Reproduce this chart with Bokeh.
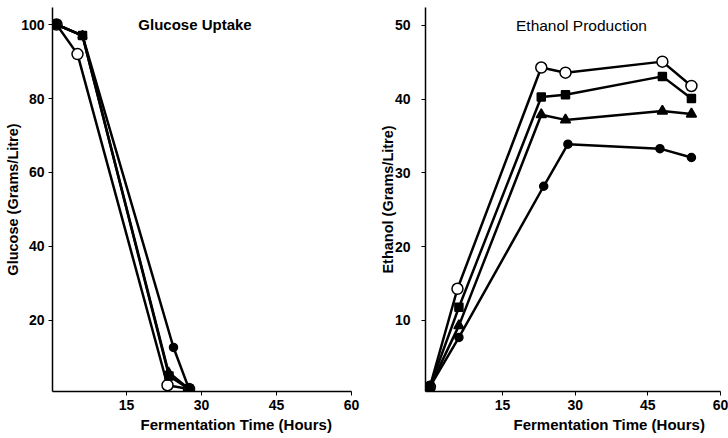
from bokeh.plotting import figure
from bokeh.layouts import row
from bokeh.models import Range1d, FixedTicker, Label, Title
from bokeh.embed import file_html
from bokeh.resources import INLINE

# ---------------- data ----------------
# Glucose uptake (g/L)
glu_t_square = [1, 6.2, 23.5, 27.5]
glu_square = [100, 97, 5, 1.5]
glu_t_fcircle = [1, 6.2, 24.4, 27.5]
glu_fcircle = [100, 97, 12.7, 1.5]
glu_t_triangle = [1, 6.2, 23.4, 27.5]
glu_triangle = [100, 97, 6, 1.5]
glu_t_ocircle = [1, 5.2, 23.2, 27.5]
glu_ocircle = [100, 92, 2.5, 1.5]

# Ethanol production (g/L)
eth_t_ocircle = [0, 5.7, 23, 28, 48, 54]
eth_ocircle = [1, 14.3, 44.3, 43.6, 45.1, 41.8]
eth_t_square = [0, 6, 23, 28, 48, 54]
eth_square = [1, 11.8, 40.3, 40.6, 43.1, 40.1]
eth_t_triangle = [0, 6, 23, 28, 48, 54]
eth_triangle = [1, 9.3, 37.9, 37.2, 38.4, 38.0]
eth_t_fcircle = [0, 6, 23.5, 28.5, 47.5, 54]
eth_fcircle = [1, 7.7, 28.2, 33.9, 33.3, 32.1]

x_ticks = [15, 30, 45, 60]
glu_ticks = [20, 40, 60, 80, 100]
eth_ticks = [10, 20, 30, 40, 50]

FONT = "Liberation Sans"


def style(p, xt, yt, tick_standoff, ylabel, ylabel_standoff):
    p.xgrid.visible = False
    p.ygrid.visible = False
    p.outline_line_color = None
    p.xaxis.ticker = FixedTicker(ticks=xt)
    p.yaxis.ticker = FixedTicker(ticks=yt)
    for ax in (p.xaxis[0], p.yaxis[0]):
        ax.major_label_text_font = FONT
        ax.major_label_text_font_size = "14px"
        ax.major_label_text_font_style = "bold"
        ax.major_label_text_color = "black"
        ax.axis_line_color = "black"
        ax.axis_line_width = 1.5
        ax.major_tick_line_color = "black"
        ax.major_tick_out = 4
        ax.major_tick_in = 0
        ax.minor_tick_line_color = None
    p.xaxis.major_label_standoff = 4
    p.yaxis.major_label_standoff = tick_standoff
    p.yaxis.axis_label = ylabel
    p.yaxis.axis_label_text_font = FONT
    p.yaxis.axis_label_text_font_size = "14.5px"
    p.yaxis.axis_label_text_font_style = "bold"
    p.yaxis.axis_label_text_color = "black"
    p.yaxis.axis_label_standoff = ylabel_standoff
    p.add_layout(Title(text="Fermentation Time (Hours)", align="left", offset=88,
                       text_font=FONT, text_font_size="15px", text_font_style="bold",
                       text_color="black", standoff=3), "below")


def series(p, t, v, marker, size, fill="black"):
    p.line(t, v, line_color="black", line_width=2.5)
    p.scatter(t, v, marker=marker, size=size, fill_color=fill,
              line_color="black", line_width=1.5)


# ---------------- left: glucose ----------------
p1 = figure(width=365, height=438, output_backend="svg", toolbar_location=None,
            x_range=Range1d(0.2, 60), y_range=Range1d(0.8, 104.6),
            min_border_left=52, min_border_right=14, min_border_top=7,
            min_border_bottom=47, background_fill_color="white",
            border_fill_color="white")
style(p1, x_ticks, glu_ticks, 4, "Glucose (Grams/Litre)", -3)

series(p1, glu_t_ocircle, glu_ocircle, "circle", 11, fill="white")
series(p1, glu_t_fcircle, glu_fcircle, "circle", 8)
series(p1, glu_t_triangle, glu_triangle, "triangle", 9)
series(p1, glu_t_square, glu_square, "square", 8)

p1.add_layout(Label(x=28.7, y=100, text="Glucose Uptake", text_font=FONT,
                    text_font_size="15px", text_font_style="bold",
                    text_align="center", text_baseline="middle",
                    text_color="black"))

# ---------------- right: ethanol ----------------
p2 = figure(width=363, height=438, output_backend="svg", toolbar_location=None,
            x_range=Range1d(-0.9, 60), y_range=Range1d(0.37, 52.44),
            min_border_left=60, min_border_right=8, min_border_top=7,
            min_border_bottom=47, background_fill_color="white",
            border_fill_color="white")
style(p2, x_ticks, eth_ticks, 11, "Ethanol (Grams/Litre)", -4)

series(p2, eth_t_ocircle, eth_ocircle, "circle", 11, fill="white")
series(p2, eth_t_fcircle, eth_fcircle, "circle", 8)
series(p2, eth_t_triangle, eth_triangle, "triangle", 10)
series(p2, eth_t_square, eth_square, "square", 8)

p2.add_layout(Label(x=31.3, y=50, text="Ethanol Production", text_font=FONT,
                    text_font_size="15.5px", text_font_style="normal",
                    text_align="center", text_baseline="middle",
                    text_color="black"))

layout = row(p1, p2)
open("out.html", "w").write(file_html(layout, INLINE))
